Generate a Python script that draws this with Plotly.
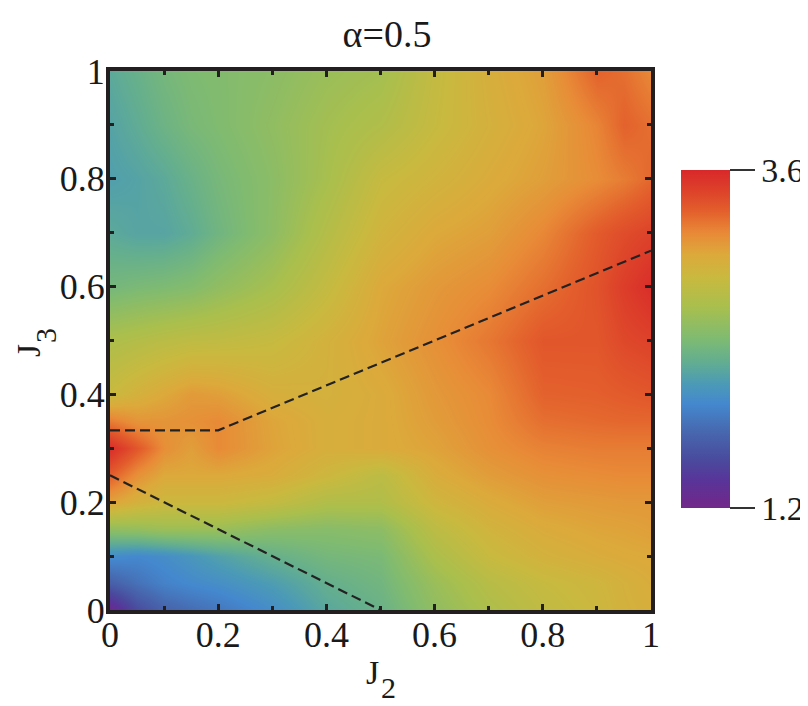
import plotly.graph_objects as go

# Grid coordinates (J2 columns, J3 rows)
j2 = [0, 0.05, 0.1, 0.15, 0.2, 0.3, 0.4, 0.5, 0.6, 0.7, 0.8, 0.9, 0.95, 1.0]
j3 = [0, 0.05, 0.1, 0.15, 0.2, 0.25, 0.3, 0.35, 0.4, 0.5, 0.6, 0.7, 0.8, 0.9, 1.0]

# Values, one list per J3 row
row_000 = [1.25, 1.55, 1.70, 1.77, 1.83, 1.98, 2.18, 2.28, 2.50, 2.66, 2.78, 2.86, 2.92, 2.95]
row_005 = [1.68, 1.80, 1.90, 1.95, 1.99, 2.10, 2.25, 2.33, 2.55, 2.72, 2.82, 2.88, 2.93, 2.97]
row_010 = [1.97, 1.94, 1.98, 2.05, 2.13, 2.26, 2.35, 2.38, 2.65, 2.83, 2.92, 2.97, 2.99, 3.00]
row_015 = [2.50, 2.52, 2.56, 2.56, 2.55, 2.47, 2.45, 2.48, 2.75, 2.90, 2.98, 3.02, 3.03, 3.05]
row_020 = [3.03, 2.93, 2.86, 2.86, 2.86, 2.80, 2.68, 2.68, 2.88, 2.98, 3.05, 3.07, 3.08, 3.08]
row_025 = [3.32, 3.12, 3.00, 3.00, 3.00, 2.97, 2.87, 2.75, 2.97, 3.06, 3.12, 3.14, 3.15, 3.15]
row_030 = [3.57, 3.35, 3.13, 3.05, 3.15, 3.03, 2.95, 2.98, 3.03, 3.12, 3.18, 3.20, 3.20, 3.20]
row_035 = [3.20, 3.10, 3.10, 3.12, 3.15, 3.02, 2.95, 2.98, 3.06, 3.14, 3.25, 3.27, 3.28, 3.28]
row_040 = [2.84, 2.93, 3.00, 3.07, 3.05, 2.95, 2.93, 2.98, 3.08, 3.15, 3.30, 3.31, 3.33, 3.35]
row_050 = [2.66, 2.70, 2.74, 2.77, 2.78, 2.82, 2.92, 3.03, 3.12, 3.22, 3.35, 3.35, 3.42, 3.45]
row_060 = [2.35, 2.38, 2.40, 2.43, 2.50, 2.62, 2.80, 3.00, 3.08, 3.14, 3.25, 3.37, 3.48, 3.57]
row_070 = [2.20, 2.16, 2.16, 2.22, 2.32, 2.48, 2.70, 2.90, 3.00, 3.05, 3.16, 3.33, 3.40, 3.45]
row_080 = [2.12, 2.15, 2.20, 2.28, 2.36, 2.47, 2.62, 2.82, 2.90, 2.98, 3.05, 3.14, 3.20, 3.28]
row_090 = [2.15, 2.22, 2.30, 2.37, 2.41, 2.50, 2.60, 2.68, 2.82, 2.93, 3.02, 3.17, 3.30, 3.25]
row_100 = [2.20, 2.27, 2.35, 2.40, 2.42, 2.47, 2.55, 2.60, 2.80, 2.95, 3.05, 3.30, 3.25, 3.15]

z_rows = [row_000, row_005, row_010, row_015, row_020, row_025, row_030, row_035,
          row_040, row_050, row_060, row_070, row_080, row_090, row_100]

# Phase boundaries (dashed)
upper_x = [0, 0.2, 1.0]
upper_y = [1 / 3, 1 / 3, 2 / 3]
lower_x = [0, 0.5]
lower_y = [0.25, 0]

zmin, zmax = 1.2, 3.6
cbar_ticks = [1.2, 3.6]
cbar_text = ["1.2", "3.6"]
axis_ticks = [0, 0.2, 0.4, 0.6, 0.8, 1]
axis_text = ["0", "0.2", "0.4", "0.6", "0.8", "1"]
minor_ticks = [0.1, 0.3, 0.5, 0.7, 0.9]

colorscale = [
    [0.000, "#722a8a"],
    [0.021, "#6c2a8c"],
    [0.083, "#58359a"],
    [0.142, "#4a4a9d"],
    [0.221, "#4766ad"],
    [0.308, "#4488ce"],
    [0.367, "#4b9ab6"],
    [0.433, "#63ae90"],
    [0.504, "#80bb70"],
    [0.596, "#a9bf4d"],
    [0.683, "#c9b93f"],
    [0.750, "#dca93b"],
    [0.8125, "#e88a37"],
    [0.879, "#e35f2c"],
    [0.9375, "#dd422a"],
    [1.000, "#d9282a"],
]

FONT = "Liberation Serif"
TXT = "#1a1a1a"

W, H = 808, 706
L, R, T, B = 102, 165, 63, 104
plot_w = W - L - R
plot_h = H - T - B


def px_x(px):
    return (px - L) / plot_w


def px_y(py):
    return (H - B - py) / plot_h


fig = go.Figure()
fig.add_trace(go.Heatmap(
    x=j2, y=j3, z=z_rows,
    zmin=zmin, zmax=zmax, zsmooth="best",
    colorscale=colorscale,
    colorbar=dict(
        thickness=49, thicknessmode="pixels",
        len=338 / plot_h, lenmode="fraction",
        x=px_x(673), xanchor="left", xpad=0,
        y=px_y(331), yanchor="middle", ypad=0,
        tickmode="array", tickvals=cbar_ticks, ticktext=cbar_text,
        ticks="outside", ticklen=25, tickwidth=2, tickcolor="#333",
        outlinewidth=0,
        tickfont=dict(family=FONT, size=34, color=TXT),
    ),
    showscale=True,
))

dash_line = dict(color="#222222", width=2.2, dash="10px,5px")
fig.add_trace(go.Scatter(x=upper_x, y=upper_y, mode="lines", line=dash_line,
                         showlegend=False, hoverinfo="skip"))
fig.add_trace(go.Scatter(x=lower_x, y=lower_y, mode="lines", line=dash_line,
                         showlegend=False, hoverinfo="skip"))

axis_common = dict(
    range=[0, 1], showgrid=False, zeroline=False,
    showline=True, linewidth=4, linecolor="#231f20", mirror="allticks",
    ticks="inside", ticklen=6, tickwidth=3, tickcolor="#231f20",
    tickmode="array", tickvals=axis_ticks, ticktext=axis_text,
    tickfont=dict(family=FONT, size=36, color=TXT),
    minor=dict(ticks="inside", ticklen=4, tickwidth=3, tickcolor="#231f20",
               tickvals=minor_ticks),
)

annotations = [
    # x-axis title J2
    dict(text="J", x=px_x(364), y=px_y(664), xref="paper", yref="paper",
         showarrow=False, xanchor="center", yanchor="middle", borderpad=0,
         font=dict(family=FONT, size=34, color=TXT)),
    dict(text="2", x=px_x(380), y=px_y(679), xref="paper", yref="paper",
         showarrow=False, xanchor="center", yanchor="middle", borderpad=0,
         font=dict(family=FONT, size=30, color=TXT)),
    # y-axis title J3 (rotated)
    dict(text="J", x=px_x(21), y=px_y(343), xref="paper", yref="paper",
         showarrow=False, xanchor="center", yanchor="middle", textangle=-90,
         borderpad=0, font=dict(family=FONT, size=33, color=TXT)),
    dict(text="3", x=px_x(37), y=px_y(328), xref="paper", yref="paper",
         showarrow=False, xanchor="center", yanchor="middle", textangle=-90,
         borderpad=0, font=dict(family=FONT, size=30, color=TXT)),
]

fig.update_layout(
    width=W, height=H,
    margin=dict(l=L, r=R, t=T, b=B),
    paper_bgcolor="white", plot_bgcolor="white",
    font=dict(family=FONT, color=TXT),
    showlegend=False,
    title=dict(text="α=0.5", x=px_x(379), xref="paper", xanchor="center",
               y=1 - 26 / H, yref="container", yanchor="middle",
               font=dict(family=FONT, size=38, color=TXT)),
    xaxis=dict(**axis_common, ticklabelstandoff=-10),
    yaxis=dict(**axis_common, ticklabelstandoff=-6),
    annotations=annotations,
)

fig.write_html("out.html")
